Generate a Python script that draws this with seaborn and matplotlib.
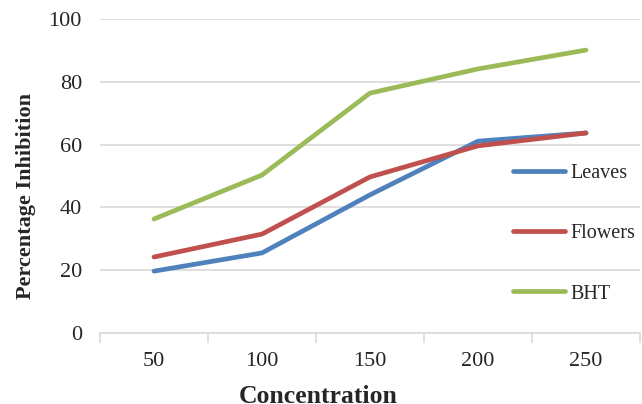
import pandas as pd
import matplotlib.pyplot as plt
import seaborn as sns

concentration = ["50", "100", "150", "200", "250"]
leaves = [19.7, 25.5, 44.0, 61.1, 63.7]
flowers = [24.2, 31.5, 49.7, 59.6, 63.7]
bht = [36.3, 50.3, 76.4, 84.1, 90.1]

series = {"Leaves": leaves, "Flowers": flowers, "BHT": bht}
colors = {"Leaves": "#4F81BD", "Flowers": "#C0504D", "BHT": "#9BBB59"}

rows = []
for name, vals in series.items():
    for c, v in zip(concentration, vals):
        rows.append({"Concentration": c, "value": v, "series": name})
df = pd.DataFrame(rows)

sns.set_style("white")
plt.rcParams["font.family"] = ["Liberation Serif", "DejaVu Serif"]

fig = plt.figure(figsize=(6.42, 4.04), dpi=100)
ax = fig.add_axes([100 / 642, (404 - 333) / 404, 540 / 642, 314 / 404])

sns.lineplot(data=df, x="Concentration", y="value", hue="series", palette=colors,
             sort=False, linewidth=3.4, ax=ax)
for line in ax.lines:
    line.set_solid_capstyle("round")

ax.set_xlim(-0.5, 4.5)
ax.set_ylim(0, 100)
ax.set_yticks(range(0, 101, 20))
ax.yaxis.grid(True, color="#D9D9D9", linewidth=1.2)
ax.set_axisbelow(True)

ax.set_xticks([i - 0.5 for i in range(6)], minor=True)
ax.tick_params(axis="x", which="minor", length=7, width=1.2, color="#D9D9D9", bottom=True)
ax.tick_params(axis="x", which="major", length=0, pad=14, labelsize=16)
ax.tick_params(axis="y", length=0, pad=13, labelsize=16)

for s in ["top", "right", "left"]:
    ax.spines[s].set_visible(False)
ax.spines["bottom"].set_color("#D9D9D9")
ax.spines["bottom"].set_linewidth(1.2)

# Excel puts the axis titles a bit off-centre
ax.set_xlabel("Concentration", fontsize=18.5, fontweight="bold")
ax.set_ylabel("Percentage Inhibition", fontsize=16, fontweight="bold")
ax.xaxis.set_label_coords(0.404, -0.165)
ax.yaxis.set_label_coords(-0.118, 0.436)

leg = ax.legend(loc="upper left", bbox_to_anchor=(0.75, 0.565), frameon=False,
                fontsize=14.5, labelspacing=2.05, handlelength=2.6, handletextpad=0.25,
                borderaxespad=0)
for h in leg.get_lines():
    h.set_linewidth(3.4)
    h.set_solid_capstyle("round")

fig.savefig("out.png", dpi=100)
